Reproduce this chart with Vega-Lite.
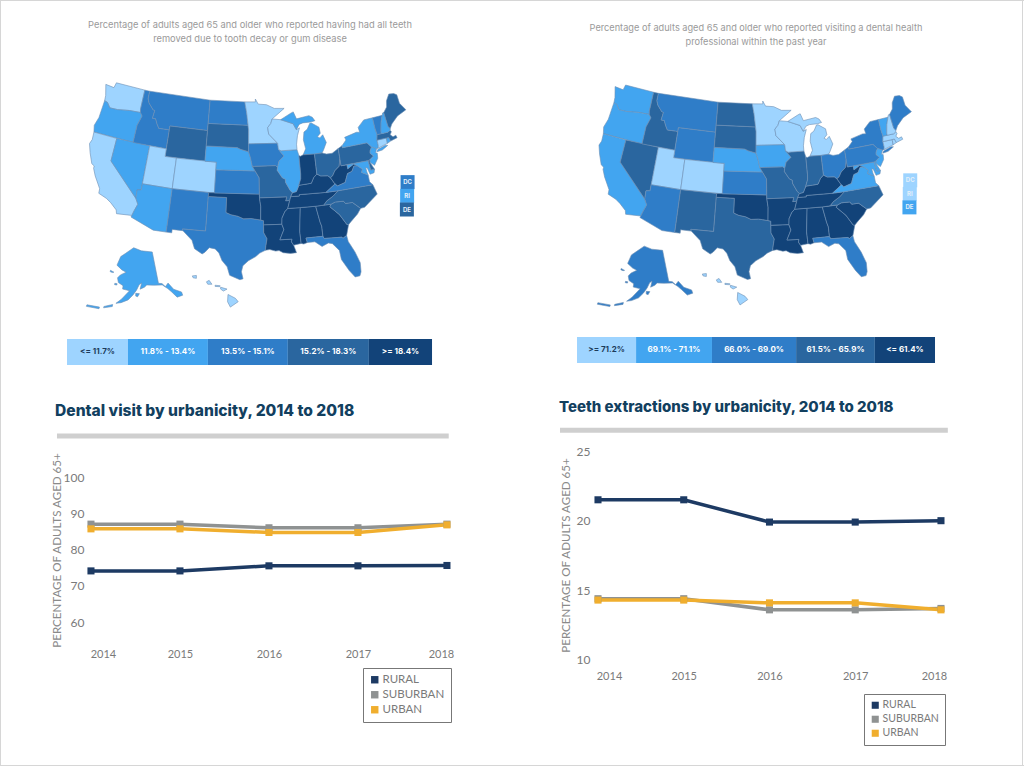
{
"$schema":"https://vega.github.io/schema/vega-lite/v6.json",
"padding":0,"autosize":{"type":"pad"},"background":"white","spacing":0,
"config":{"view":{"stroke":null},"font":"Lato"},
"resolve":{"scale":{"color":"independent"}},
"datasets":{
"boxes":[{"label":"DC","lonA":-70.27,"lonB":-70.6,"lat":35.8,"latB":36.25,"a":2,"b":0},{"label":"RI","lonA":-70.92,"lonB":-71.25,"lat":34.1,"latB":34.55,"a":1,"b":0},{"label":"DE","lonA":-71.51,"lonB":-71.85,"lat":32.4,"latB":32.85,"a":3,"b":1}],
"visit":[
{"year":2014,"group":"RURAL","pct":74.1},{"year":2015,"group":"RURAL","pct":74.1},{"year":2016,"group":"RURAL","pct":75.5},{"year":2017,"group":"RURAL","pct":75.5},{"year":2018,"group":"RURAL","pct":75.6},
{"year":2014,"group":"SUBURBAN","pct":87},{"year":2015,"group":"SUBURBAN","pct":87},{"year":2016,"group":"SUBURBAN","pct":86},{"year":2017,"group":"SUBURBAN","pct":86},{"year":2018,"group":"SUBURBAN","pct":87},
{"year":2014,"group":"URBAN","pct":85.7},{"year":2015,"group":"URBAN","pct":85.7},{"year":2016,"group":"URBAN","pct":84.7},{"year":2017,"group":"URBAN","pct":84.7},{"year":2018,"group":"URBAN","pct":86.8}],
"extract":[
{"year":2014,"group":"RURAL","pct":21.5},{"year":2015,"group":"RURAL","pct":21.5},{"year":2016,"group":"RURAL","pct":19.9},{"year":2017,"group":"RURAL","pct":19.9},{"year":2018,"group":"RURAL","pct":20},
{"year":2014,"group":"SUBURBAN","pct":14.4},{"year":2015,"group":"SUBURBAN","pct":14.4},{"year":2016,"group":"SUBURBAN","pct":13.6},{"year":2017,"group":"SUBURBAN","pct":13.6},{"year":2018,"group":"SUBURBAN","pct":13.7},
{"year":2014,"group":"URBAN","pct":14.3},{"year":2015,"group":"URBAN","pct":14.3},{"year":2016,"group":"URBAN","pct":14.1},{"year":2017,"group":"URBAN","pct":14.1},{"year":2018,"group":"URBAN","pct":13.6}],
"states":[
{"type":"Feature","properties":{"id":"WA","a":0,"b":1},"geometry":{"type":"Polygon","coordinates":[[[-124.7,48.4],[-123,48.3],[-122.8,49],[-117.03,49],[-117.04,46.42],[-116.92,46],[-119,45.93],[-121.2,45.65],[-122.7,45.6],[-123.4,46.2],[-124,46.3],[-124.1,47],[-124.7,48.4]]]}},
{"type":"Feature","properties":{"id":"OR","a":1,"b":1},"geometry":{"type":"Polygon","coordinates":[[[-124,46.3],[-123.4,46.2],[-122.7,45.6],[-121.2,45.65],[-119,45.93],[-116.92,46],[-116.46,45.6],[-117,44.3],[-117.03,42],[-124.2,42],[-124.5,42.85],[-124.1,44],[-124,46.3]]]}},
{"type":"Feature","properties":{"id":"CA","a":0,"b":1},"geometry":{"type":"Polygon","coordinates":[[[-124.2,42],[-120,42],[-120,39],[-114.63,35],[-114.13,34.3],[-114.5,33.4],[-114.72,32.72],[-117.12,32.53],[-117.3,33],[-118.4,33.75],[-119.2,34.15],[-120.6,34.55],[-120.65,35.15],[-121.9,36.6],[-122.5,37.5],[-122.5,37.8],[-123,38],[-123.8,39.3],[-124.35,40.4],[-124.1,41],[-124.2,42]]]}},
{"type":"Feature","properties":{"id":"NV","a":1,"b":3},"geometry":{"type":"Polygon","coordinates":[[[-120,42],[-114.04,42],[-114.04,36.2],[-114.7,36.1],[-114.63,35],[-120,39],[-120,42]]]}},
{"type":"Feature","properties":{"id":"ID","a":2,"b":3},"geometry":{"type":"Polygon","coordinates":[[[-117.03,49],[-116.05,49],[-116.05,48],[-115.7,47.45],[-114.7,46.7],[-114.35,46.65],[-114.5,45.6],[-113.9,45.6],[-113.45,44.95],[-113,44.45],[-111.5,44.5],[-111.05,44.48],[-111.05,42],[-117.03,42],[-117,44.3],[-116.46,45.6],[-116.92,46],[-117.04,46.42],[-117.03,49]]]}},
{"type":"Feature","properties":{"id":"MT","a":2,"b":2},"geometry":{"type":"Polygon","coordinates":[[[-116.05,49],[-104.05,49],[-104.05,45],[-111.05,45],[-111.05,44.48],[-111.5,44.5],[-113,44.45],[-113.45,44.95],[-113.9,45.6],[-114.5,45.6],[-114.35,46.65],[-114.7,46.7],[-115.7,47.45],[-116.05,48],[-116.05,49]]]}},
{"type":"Feature","properties":{"id":"WY","a":3,"b":2},"geometry":{"type":"Polygon","coordinates":[[[-111.05,45],[-104.05,45],[-104.05,41],[-111.05,41],[-111.05,45]]]}},
{"type":"Feature","properties":{"id":"UT","a":0,"b":0},"geometry":{"type":"Polygon","coordinates":[[[-114.04,42],[-111.05,42],[-111.05,41],[-109.05,41],[-109.05,37],[-114.04,37],[-114.04,42]]]}},
{"type":"Feature","properties":{"id":"CO","a":0,"b":0},"geometry":{"type":"Polygon","coordinates":[[[-109.05,41],[-102.05,41],[-102.05,37],[-109.05,37],[-109.05,41]]]}},
{"type":"Feature","properties":{"id":"AZ","a":1,"b":2},"geometry":{"type":"Polygon","coordinates":[[[-114.04,37],[-109.05,37],[-109.05,31.33],[-111.07,31.33],[-114.81,32.5],[-114.72,32.72],[-114.5,33.4],[-114.13,34.3],[-114.63,35],[-114.7,36.1],[-114.04,36.2],[-114.04,37]]]}},
{"type":"Feature","properties":{"id":"NM","a":2,"b":3},"geometry":{"type":"Polygon","coordinates":[[[-109.05,37],[-103,37],[-103.04,32],[-106.62,32],[-106.53,31.78],[-108.2,31.78],[-108.2,31.33],[-109.05,31.33],[-109.05,37]]]}},
{"type":"Feature","properties":{"id":"TX","a":2,"b":3},"geometry":{"type":"Polygon","coordinates":[[[-103.02,36.5],[-100,36.5],[-100,34.56],[-99.2,34.3],[-98.1,34.13],[-97.2,33.8],[-96,33.85],[-94.48,33.64],[-94.04,33.55],[-94.04,33],[-94.04,31.99],[-93.55,31.2],[-93.75,30.3],[-93.85,29.7],[-94.7,29.35],[-95.3,28.9],[-96.4,28.35],[-97.2,27.7],[-97.4,26.9],[-97.15,25.97],[-97.6,25.85],[-99.1,26.4],[-99.5,27.5],[-100.3,28.3],[-100.8,29.25],[-101.4,29.77],[-102.3,29.88],[-102.9,29.25],[-103.3,29],[-104.5,29.6],[-105,30.65],[-106.53,31.78],[-106.62,32],[-103.04,32],[-103.02,36.5]]]}},
{"type":"Feature","properties":{"id":"OK","a":4,"b":4},"geometry":{"type":"Polygon","coordinates":[[[-103,37],[-94.62,37],[-94.62,36.5],[-94.43,35.39],[-94.48,33.64],[-96,33.85],[-97.2,33.8],[-98.1,34.13],[-99.2,34.3],[-100,34.56],[-100,36.5],[-103.02,36.5],[-103,37]]]}},
{"type":"Feature","properties":{"id":"KS","a":2,"b":2},"geometry":{"type":"Polygon","coordinates":[[[-102.05,40],[-95.3,40],[-94.62,39.1],[-94.62,37],[-102.05,37],[-102.05,40]]]}},
{"type":"Feature","properties":{"id":"NE","a":1,"b":1},"geometry":{"type":"Polygon","coordinates":[[[-104.05,43],[-98.5,43],[-97.9,42.8],[-96.45,42.49],[-96.1,41.7],[-95.77,40.58],[-95.3,40],[-102.05,40],[-102.05,41],[-104.05,41],[-104.05,43]]]}},
{"type":"Feature","properties":{"id":"SD","a":3,"b":3},"geometry":{"type":"Polygon","coordinates":[[[-104.05,45.94],[-96.56,45.94],[-96.45,45.3],[-96.45,43.5],[-96.45,42.49],[-97.9,42.8],[-98.5,43],[-104.05,43],[-104.05,45.94]]]}},
{"type":"Feature","properties":{"id":"ND","a":2,"b":3},"geometry":{"type":"Polygon","coordinates":[[[-104.05,49],[-97.23,49],[-96.85,47.6],[-96.56,45.94],[-104.05,45.94],[-104.05,49]]]}},
{"type":"Feature","properties":{"id":"MN","a":0,"b":0},"geometry":{"type":"Polygon","coordinates":[[[-97.23,49],[-95.15,49],[-95.15,49.38],[-94.6,48.7],[-93,48.6],[-91.5,48.07],[-89.6,48],[-92,46.7],[-92.3,46.1],[-92.9,45.6],[-92.75,44.75],[-91.2,43.5],[-96.45,43.5],[-96.45,45.3],[-96.56,45.94],[-96.85,47.6],[-97.23,49]]]}},
{"type":"Feature","properties":{"id":"IA","a":2,"b":1},"geometry":{"type":"Polygon","coordinates":[[[-96.45,43.5],[-91.2,43.5],[-91.1,42.7],[-90.2,41.8],[-91.1,41.2],[-91.42,40.38],[-91.73,40.61],[-95.77,40.58],[-96.1,41.7],[-96.45,42.49],[-96.45,43.5]]]}},
{"type":"Feature","properties":{"id":"MO","a":3,"b":3},"geometry":{"type":"Polygon","coordinates":[[[-95.77,40.58],[-91.73,40.61],[-91.42,40.38],[-91.5,40],[-90.7,39],[-90.2,38.8],[-90.2,38.4],[-89.5,37.3],[-89.15,37],[-89.5,36.5],[-89.7,36],[-90.37,36],[-90.15,36.5],[-94.62,36.5],[-94.62,37],[-94.62,39.1],[-95.3,40],[-95.77,40.58]]]}},
{"type":"Feature","properties":{"id":"AR","a":4,"b":4},"geometry":{"type":"Polygon","coordinates":[[[-94.62,36.5],[-90.15,36.5],[-90.37,36],[-89.7,36],[-90.1,35],[-90.6,34.6],[-91.1,33.8],[-91.17,33],[-94.04,33],[-94.04,33.55],[-94.48,33.64],[-94.43,35.39],[-94.62,36.5]]]}},
{"type":"Feature","properties":{"id":"LA","a":4,"b":4},"geometry":{"type":"Polygon","coordinates":[[[-94.04,33],[-91.17,33],[-90.9,32.3],[-91.6,31],[-89.73,31],[-89.85,30.65],[-89.55,30.2],[-89.4,29.8],[-89.2,29.2],[-90.1,29.15],[-91.2,29.3],[-91.8,29.6],[-92.3,29.55],[-93.2,29.78],[-93.85,29.7],[-93.75,30.3],[-93.55,31.2],[-94.04,31.99],[-94.04,33]]]}},
{"type":"Feature","properties":{"id":"MS","a":4,"b":4},"geometry":{"type":"Polygon","coordinates":[[[-90.1,35],[-88.2,35],[-88.1,34.9],[-88.47,31.9],[-88.4,30.35],[-89.55,30.2],[-89.85,30.65],[-89.73,31],[-91.6,31],[-90.9,32.3],[-91.17,33],[-91.1,33.8],[-90.6,34.6],[-90.1,35]]]}},
{"type":"Feature","properties":{"id":"AL","a":4,"b":4},"geometry":{"type":"Polygon","coordinates":[[[-88.2,35],[-85.6,34.98],[-85.18,32.87],[-85,32.3],[-85,31],[-87.6,31],[-87.45,30.4],[-88,30.25],[-88.4,30.35],[-88.47,31.9],[-88.1,34.9],[-88.2,35]]]}},
{"type":"Feature","properties":{"id":"GA","a":4,"b":4},"geometry":{"type":"Polygon","coordinates":[[[-85.6,34.98],[-83.1,35],[-83.35,34.7],[-82,33.5],[-81.1,32.1],[-80.85,32.03],[-81.4,30.7],[-82,30.4],[-82.2,30.57],[-84.86,30.7],[-85,31],[-85,32.3],[-85.18,32.87],[-85.6,34.98]]]}},
{"type":"Feature","properties":{"id":"FL","a":2,"b":2},"geometry":{"type":"Polygon","coordinates":[[[-87.6,31],[-85,31],[-84.86,30.7],[-82.2,30.57],[-82,30.4],[-81.4,30.7],[-81.3,29.9],[-80.55,28.4],[-80.05,26.9],[-80.15,25.7],[-80.4,25.2],[-81.1,25.15],[-81.8,26.1],[-82.7,27.7],[-82.8,28.9],[-83.7,29.9],[-84.3,30.05],[-85.3,29.7],[-86.3,30.4],[-87.45,30.4],[-87.6,31]]]}},
{"type":"Feature","properties":{"id":"SC","a":3,"b":4},"geometry":{"type":"Polygon","coordinates":[[[-83.1,35],[-82.4,35.2],[-81.05,35.15],[-80.8,34.82],[-79.67,34.8],[-78.55,33.86],[-79.2,33.2],[-80.45,32.35],[-80.85,32.03],[-81.1,32.1],[-82,33.5],[-83.35,34.7],[-83.1,35]]]}},
{"type":"Feature","properties":{"id":"NC","a":3,"b":3},"geometry":{"type":"Polygon","coordinates":[[[-81.68,36.59],[-75.87,36.55],[-75.5,35.25],[-76.5,34.7],[-77.9,33.9],[-78.55,33.86],[-79.67,34.8],[-80.8,34.82],[-81.05,35.15],[-82.4,35.2],[-83.1,35],[-84.32,35],[-83.7,35.5],[-82.6,36],[-81.68,36.59]]]}},
{"type":"Feature","properties":{"id":"TN","a":4,"b":4},"geometry":{"type":"Polygon","coordinates":[[[-89.5,36.5],[-88.07,36.5],[-88.07,36.68],[-83.68,36.6],[-81.68,36.59],[-82.6,36],[-83.7,35.5],[-84.32,35],[-85.6,34.98],[-88.2,35],[-90.1,35],[-89.7,36],[-89.5,36.5]]]}},
{"type":"Feature","properties":{"id":"KY","a":4,"b":4},"geometry":{"type":"Polygon","coordinates":[[[-89.15,37],[-88.5,37.1],[-88.05,37.8],[-87.9,37.9],[-86.8,37.95],[-85.9,38],[-85.4,38.7],[-84.8,39.1],[-84.2,38.8],[-83,38.7],[-82.6,38.4],[-82,37.5],[-81.97,37.54],[-83.68,36.6],[-88.07,36.68],[-88.07,36.5],[-89.5,36.5],[-89.15,37]]]}},
{"type":"Feature","properties":{"id":"IL","a":1,"b":3},"geometry":{"type":"Polygon","coordinates":[[[-90.65,42.5],[-87.8,42.5],[-87.55,41.7],[-87.53,39.35],[-87.6,38.7],[-88.05,37.8],[-88.5,37.1],[-89.15,37],[-89.5,37.3],[-90.2,38.4],[-90.2,38.8],[-90.7,39],[-91.5,40],[-91.42,40.38],[-91.1,41.2],[-90.2,41.8],[-91.1,42.7],[-90.65,42.5]]]}},
{"type":"Feature","properties":{"id":"WI","a":0,"b":0},"geometry":{"type":"Polygon","coordinates":[[[-92,46.7],[-90.4,46.55],[-88.1,45.9],[-87.6,45.1],[-87,45.3],[-87.5,44.3],[-87.8,43.2],[-87.8,42.5],[-90.65,42.5],[-91.1,42.7],[-91.2,43.5],[-92.75,44.75],[-92.9,45.6],[-92.3,46.1],[-92,46.7]]]}},
{"type":"Feature","properties":{"id":"MI","a":1,"b":0},"geometry":{"type":"MultiPolygon","coordinates":[[[[-85,45.75],[-84.7,45.75],[-83.4,45.1],[-83.3,44.3],[-83.9,43.9],[-83.5,43.7],[-82.9,44.05],[-82.45,43],[-83.15,42.05],[-83.45,41.73],[-84.8,41.7],[-86.8,41.76],[-86.25,42.5],[-86.5,43.7],[-86.25,44.7],[-85.6,45],[-85,45.75]]],[[[-90.4,46.55],[-88.4,47.3],[-87.9,47.45],[-87.4,46.5],[-85,46.75],[-84.4,46.5],[-84,46],[-84.8,45.9],[-86.3,45.9],[-87,45.75],[-87.6,45.1],[-88.1,45.9],[-90.4,46.55]]]]}},
{"type":"Feature","properties":{"id":"IN","a":4,"b":3},"geometry":{"type":"Polygon","coordinates":[[[-87.55,41.7],[-87.3,41.62],[-86.8,41.76],[-84.8,41.7],[-84.8,39.1],[-85.4,38.7],[-85.9,38],[-86.8,37.95],[-87.9,37.9],[-88.05,37.8],[-87.6,38.7],[-87.53,39.35],[-87.55,41.7]]]}},
{"type":"Feature","properties":{"id":"OH","a":3,"b":2},"geometry":{"type":"Polygon","coordinates":[[[-84.8,41.7],[-83.45,41.73],[-82.7,41.5],[-81.7,41.5],[-80.52,41.98],[-80.52,40.64],[-80.85,39.7],[-81.7,39.2],[-82.2,38.6],[-82.6,38.4],[-83,38.7],[-84.2,38.8],[-84.8,39.1],[-84.8,41.7]]]}},
{"type":"Feature","properties":{"id":"WV","a":4,"b":4},"geometry":{"type":"Polygon","coordinates":[[[-80.52,40.64],[-80.52,39.72],[-79.48,39.72],[-79.48,39.2],[-78.35,39.65],[-77.72,39.32],[-78.35,39.4],[-78.87,38.76],[-79.65,38.59],[-80.3,37.5],[-81.68,37.2],[-81.97,37.54],[-82,37.5],[-82.6,38.4],[-82.2,38.6],[-81.7,39.2],[-80.85,39.7],[-80.52,40.64]]]}},
{"type":"Feature","properties":{"id":"VA","a":2,"b":1},"geometry":{"type":"Polygon","coordinates":[[[-83.68,36.6],[-81.97,37.54],[-81.68,37.2],[-80.3,37.5],[-79.65,38.59],[-78.87,38.76],[-78.35,39.4],[-77.72,39.32],[-77.05,38.8],[-77.3,38.4],[-76.3,37.9],[-76.3,37],[-75.87,36.55],[-81.68,36.59],[-83.68,36.6]]]}},
{"type":"Feature","properties":{"id":"MD","a":1,"b":1},"geometry":{"type":"Polygon","coordinates":[[[-79.48,39.72],[-75.79,39.72],[-75.7,38.46],[-75.05,38.45],[-75.25,38.03],[-75.95,37.95],[-76.2,38.8],[-76.45,38.9],[-76.4,38.3],[-76.3,37.9],[-77.3,38.4],[-77.05,38.8],[-77.72,39.32],[-78.35,39.65],[-79.48,39.2],[-79.48,39.72]]]}},
{"type":"Feature","properties":{"id":"DE","a":3,"b":1},"geometry":{"type":"Polygon","coordinates":[[[-75.79,39.72],[-75.42,39.8],[-75.55,39.45],[-75.05,38.45],[-75.7,38.46],[-75.79,39.72]]]}},
{"type":"Feature","properties":{"id":"PA","a":3,"b":2},"geometry":{"type":"Polygon","coordinates":[[[-80.52,41.98],[-79.76,42.27],[-79.76,42],[-75.35,42],[-74.7,41.36],[-75.1,40.9],[-75.2,40.6],[-74.72,40.15],[-75.42,39.8],[-75.79,39.72],[-80.52,39.72],[-80.52,41.98]]]}},
{"type":"Feature","properties":{"id":"NJ","a":1,"b":1},"geometry":{"type":"Polygon","coordinates":[[[-74.7,41.36],[-73.9,41],[-74.25,40.5],[-73.98,40.4],[-74.1,39.75],[-74.9,38.95],[-75.55,39.45],[-75.42,39.8],[-74.72,40.15],[-75.2,40.6],[-75.1,40.9],[-74.7,41.36]]]}},
{"type":"Feature","properties":{"id":"NY","a":1,"b":2},"geometry":{"type":"MultiPolygon","coordinates":[[[[-79.76,42.27],[-78.9,42.9],[-79.05,43.27],[-76.8,43.63],[-76.2,43.55],[-76.3,44.2],[-75,45],[-73.34,45.01],[-73.35,43.6],[-73.25,42.75],[-73.5,42.05],[-73.5,41.3],[-73.65,41],[-73.9,41],[-74.7,41.36],[-75.35,42],[-79.76,42],[-79.76,42.27]]],[[[-73.75,40.85],[-72.3,41.15],[-71.9,41.05],[-73,40.65],[-74,40.58],[-73.75,40.85]]]]}},
{"type":"Feature","properties":{"id":"CT","a":0,"b":0},"geometry":{"type":"Polygon","coordinates":[[[-73.5,42.05],[-71.8,42.02],[-71.85,41.32],[-73.65,41],[-73.5,41.3],[-73.5,42.05]]]}},
{"type":"Feature","properties":{"id":"RI","a":1,"b":0},"geometry":{"type":"Polygon","coordinates":[[[-71.8,42.02],[-71.38,42.02],[-71.2,41.5],[-71.85,41.32],[-71.8,42.02]]]}},
{"type":"Feature","properties":{"id":"MA","a":3,"b":0},"geometry":{"type":"Polygon","coordinates":[[[-73.25,42.75],[-72.46,42.73],[-71.3,42.7],[-70.8,42.87],[-70.65,42.65],[-71,42.3],[-70.6,41.95],[-70.05,42.05],[-69.95,41.7],[-71.2,41.5],[-71.38,42.02],[-71.8,42.02],[-73.5,42.05],[-73.25,42.75]]]}},
{"type":"Feature","properties":{"id":"VT","a":2,"b":1},"geometry":{"type":"Polygon","coordinates":[[[-73.34,45.01],[-71.5,45.01],[-72.05,44.1],[-72.45,43],[-72.46,42.73],[-73.25,42.75],[-73.35,43.6],[-73.34,45.01]]]}},
{"type":"Feature","properties":{"id":"NH","a":1,"b":0},"geometry":{"type":"Polygon","coordinates":[[[-71.5,45.01],[-71.3,45.3],[-71.08,45.3],[-70.98,43.4],[-70.7,43.07],[-70.8,42.87],[-71.3,42.7],[-72.46,42.73],[-72.45,43],[-72.05,44.1],[-71.5,45.01]]]}},
{"type":"Feature","properties":{"id":"ME","a":3,"b":2},"geometry":{"type":"Polygon","coordinates":[[[-71.08,45.3],[-70.3,45.9],[-70,46.7],[-69.23,47.46],[-68.3,47.35],[-67.8,47.07],[-67.78,45.9],[-67,44.85],[-68.8,44.4],[-70.2,43.6],[-70.7,43.07],[-70.98,43.4],[-71.08,45.3]]]}},
{"type":"Feature","properties":{"id":"AK","a":1,"b":2},"geometry":{"type":"MultiPolygon","coordinates":[[[[-168,65.6],[-166.5,68.3],[-163,69.5],[-156.6,71.35],[-150,70.4],[-141,69.65],[-141,60.3],[-139,60],[-137.5,58.9],[-135.5,59.7],[-133.5,57.5],[-130,56],[-130,55],[-133,55],[-135,57],[-136.5,58.2],[-139,59.6],[-144,60],[-148,60.3],[-149.5,59.7],[-152,59.2],[-151,61],[-152.5,60.5],[-154,59],[-156,57.5],[-158.5,56],[-162,55],[-164.5,54.6],[-162,56],[-158,58.7],[-162,59],[-162,60],[-165,60.7],[-166,62],[-164.5,63],[-161,64],[-164,64.5],[-168,65.6]]],[[[-154.5,58],[-152.5,57.9],[-153.5,57],[-154.5,57.2],[-154.5,58]]],[[[-167,60.3],[-165.6,60.3],[-165.7,59.9],[-167,59.9],[-167,60.3]]],[[[-171.5,63.7],[-169,63.4],[-170,63.2],[-171.5,63.3],[-171.5,63.7]]],[[[-170,53],[-166,54.1],[-166,53.5],[-170,52.6],[-170,53]]],[[[-178,52],[-172,52.5],[-172,52],[-178,51.5],[-178,52]]]]}},
{"type":"Feature","properties":{"id":"HI","a":0,"b":0},"geometry":{"type":"MultiPolygon","coordinates":[[[[-155.9,20.25],[-155.1,19.85],[-154.8,19.5],[-155.65,18.95],[-155.95,19.5],[-155.9,20.25]]],[[[-156.7,21],[-156,20.8],[-156.4,20.6],[-156.7,20.8],[-156.7,21]]],[[[-158.25,21.55],[-157.95,21.7],[-157.65,21.3],[-158.1,21.3],[-158.25,21.55]]],[[[-159.8,22.15],[-159.35,22.2],[-159.35,21.9],[-159.7,21.95],[-159.8,22.15]]],[[[-157.3,21.2],[-156.75,21.15],[-156.8,21.05],[-157.3,21.08],[-157.3,21.2]]]]}}
]},
"vconcat":[
{"width":1024,"height":1,"view":{"fill":"#d6d6d6","stroke":null},"data":{"values":[{}]},"mark":{"type":"rect","opacity":0},"encoding":{}},
{"spacing":0,"resolve":{"scale":{"color":"independent"}},"hconcat":[
{"width":1,"height":764,"view":{"fill":"#d6d6d6","stroke":null},"data":{"values":[{}]},"mark":{"type":"rect","opacity":0},"encoding":{}},
{"bounds":"flush","spacing":0,"resolve":{"scale":{"color":"independent"}},"vconcat":[
{"width":511,"height":229,
 "title":{"text":["Percentage of adults aged 65 and older who reported having had all teeth","removed due to tooth decay or gum disease"],"anchor":"middle","frame":"group","offset":-43,"baseline":"top","dx":-6.5,"font":"Inter","fontSize":9.3,"fontWeight":"normal","color":"#9a9a9a","lineHeight":14},
 "projection":{"type":"albersUsa","scale":439,"translate":[246.5,180]},
 "layer":[
 {"data":{"name":"states"},"transform":[{"filter":"datum.properties.id!='AK'&&datum.properties.id!='HI'"}],"mark":{"type":"geoshape","clip":false,"stroke":"#6d8fb3","strokeWidth":0.6},"encoding":{"color":{"field":"properties.a","type":"ordinal","legend":null,"scale":{"domain":[0,1,2,3,4],"range":["#9ed4ff","#42a5f0","#2f7dc8","#2a669f","#124379"]}}}},
 {"data":{"name":"boxes"},"mark":{"type":"square","size":196,"opacity":1,"filled":true},"encoding":{"longitude":{"field":"lonA","type":"quantitative"},"latitude":{"field":"lat","type":"quantitative"},"color":{"field":"a","type":"ordinal","legend":null,"scale":{"domain":[0,1,2,3,4],"range":["#9ed4ff","#42a5f0","#2f7dc8","#2a669f","#124379"]}}}},
 {"data":{"name":"boxes"},"mark":{"type":"text","fontSize":6,"font":"Inter","fontWeight":"bold","color":"#e4f0fa"},"encoding":{"longitude":{"field":"lonA","type":"quantitative"},"latitude":{"field":"lat","type":"quantitative"},"text":{"field":"label"}}}
 ]},
{"width":511,"height":109,
 "projection":{"type":"albersUsa","scale":560,"translate":[304,-51],"precision":0.6},
 "layer":[{"data":{"name":"states"},"transform":[{"filter":"datum.properties.id=='AK'||datum.properties.id=='HI'"}],
 "mark":{"type":"geoshape","clip":false,"stroke":"#6d8fb3","strokeWidth":0.6},"encoding":{"color":{"field":"properties.a","type":"ordinal","legend":null,"scale":{"domain":[0,1,2,3,4],"range":["#9ed4ff","#42a5f0","#2f7dc8","#2a669f","#124379"]}}}}]},
{"width":511,"height":26,
 "data":{"values":[{"label":"<= 11.7%","cls":0,"lo":0,"hi":16.7,"mid":8.35},{"label":"11.8% - 13.4%","cls":1,"lo":16.7,"hi":38.6,"mid":27.65},{"label":"13.5% - 15.1%","cls":2,"lo":38.6,"hi":60.5,"mid":49.55},{"label":"15.2% - 18.3%","cls":3,"lo":60.5,"hi":82.7,"mid":71.6},{"label":">= 18.4%","cls":4,"lo":82.7,"hi":100,"mid":91.35}]},
 "layer":[
 {"mark":{"type":"rect"},"encoding":{"x":{"field":"lo","type":"quantitative","axis":null,"scale":{"domain":[-18.086,121.91],"nice":false,"zero":false}},"x2":{"field":"hi"},"color":{"field":"cls","type":"ordinal","legend":null,"scale":{"domain":[0,1,2,3,4],"range":["#9ed4ff","#42a5f0","#2f7dc8","#2a669f","#124379"]}}}},
 {"mark":{"type":"text","fontSize":8,"font":"Inter","fontWeight":"bold"},"encoding":{"x":{"field":"mid","type":"quantitative","axis":null,"scale":{"domain":[-18.086,121.91],"nice":false,"zero":false}},"text":{"field":"label"},"color":{"condition":{"test":"datum.cls==0","value":"#1c3b5a"},"value":"#ffffff"}}}
 ]},
{"width":511,"height":280,
 "title":{"text":"Dental visit by urbanicity, 2014 to 2018","anchor":"start","frame":"group","offset":-62,"baseline":"middle","dx":54,"font":"Inter","fontSize":15.6,"fontWeight":800,"color":"#12405f"},
 "layer":[
 {"data":{"values":[{"from":2013.618,"to":2018.02,"level":111.3}]},"mark":{"type":"rule","color":"#cfcfcf","strokeWidth":5},"encoding":{
  "x":{"field":"from","type":"quantitative","title":null,"scale":{"domain":[2012.989,2018.731],"nice":false,"zero":false},"axis":{"title":null,"values":[2014,2015,2016,2017,2018],"format":"d","grid":false,"domain":false,"ticks":false,"labelPadding":3,"labelFontSize":11,"labelColor":"#7a7a7a","labelOffset":{"condition":[{"test":"datum.value==2014","value":12},{"test":"datum.value==2018","value":-6}],"value":0}}},"x2":{"field":"to"},
  "y":{"field":"level","type":"quantitative","scale":{"domain":[53.66,130.9],"nice":false,"zero":false},"axis":{"values":[60,70,80,90,100],"grid":false,"domain":false,"ticks":false,"offset":-85,"labelPadding":2,"labelFontSize":12,"labelColor":"#7a7a7a","title":"PERCENTAGE OF ADULTS AGED 65+","titleFontSize":11.6,"titleFontWeight":"normal","titleColor":"#8a8a8a","titleX":-24,"titleY":185}}}},
 {"data":{"name":"visit"},"mark":{"type":"line","strokeWidth":3.5},"encoding":{"x":{"field":"year","type":"quantitative"},"y":{"field":"pct","type":"quantitative"},"stroke":{"field":"group","type":"nominal","legend":null,"scale":{"domain":["RURAL","SUBURBAN","URBAN"],"range":["#1d3a63","#8f9292","#f0ae2e"]}}}},
 {"data":{"name":"visit"},"mark":{"type":"square","size":50,"filled":true,"opacity":1},"encoding":{
  "x":{"field":"year","type":"quantitative"},
  "y":{"field":"pct","type":"quantitative"},
  "color":{"field":"group","type":"nominal","scale":{"domain":["RURAL","SUBURBAN","URBAN"],"range":["#1d3a63","#8f9292","#f0ae2e"]},"legend":{"orient":"none","legendX":362,"legendY":303,"title":null,"symbolType":"square","symbolSize":55,"symbolOpacity":1,"strokeColor":"#777777","padding":6,"labelFontSize":11.5,"labelColor":"#7a7a7a","rowPadding":2,"labelOffset":2}}}}
 ]}
]},
{"bounds":"flush","spacing":0,"resolve":{"scale":{"color":"independent"}},"vconcat":[
{"width":510,"height":227,
 "title":{"text":["Percentage of adults aged 65 and older who reported visiting a dental health","professional within the past year"],"anchor":"middle","frame":"group","offset":-46,"baseline":"top","dx":-11,"font":"Inter","fontSize":9.2,"fontWeight":"normal","color":"#9a9a9a","lineHeight":14},
 "projection":{"type":"albersUsa","scale":433.5,"translate":[243,181]},
 "layer":[
 {"data":{"name":"states"},"transform":[{"filter":"datum.properties.id!='AK'&&datum.properties.id!='HI'"}],"mark":{"type":"geoshape","clip":false,"stroke":"#6d8fb3","strokeWidth":0.6},"encoding":{"color":{"field":"properties.b","type":"ordinal","legend":null,"scale":{"domain":[0,1,2,3,4],"range":["#9ed4ff","#42a5f0","#2f7dc8","#2a669f","#124379"]}}}},
 {"data":{"name":"boxes"},"mark":{"type":"square","size":196,"opacity":1,"filled":true},"encoding":{"longitude":{"field":"lonB","type":"quantitative"},"latitude":{"field":"latB","type":"quantitative"},"color":{"field":"b","type":"ordinal","legend":null,"scale":{"domain":[0,1,2,3,4],"range":["#9ed4ff","#42a5f0","#2f7dc8","#2a669f","#124379"]}}}},
 {"data":{"name":"boxes"},"mark":{"type":"text","fontSize":6,"font":"Inter","fontWeight":"bold","color":"#e4f0fa"},"encoding":{"longitude":{"field":"lonB","type":"quantitative"},"latitude":{"field":"latB","type":"quantitative"},"text":{"field":"label"}}}
 ]},
{"width":510,"height":109,
 "projection":{"type":"albersUsa","scale":555,"translate":[302,-50],"precision":0.6},
 "layer":[{"data":{"name":"states"},"transform":[{"filter":"datum.properties.id=='AK'||datum.properties.id=='HI'"}],
 "mark":{"type":"geoshape","clip":false,"stroke":"#6d8fb3","strokeWidth":0.6},"encoding":{"color":{"field":"properties.b","type":"ordinal","legend":null,"scale":{"domain":[0,1,2,3,4],"range":["#9ed4ff","#42a5f0","#2f7dc8","#2a669f","#124379"]}}}}]},
{"width":510,"height":26,
 "data":{"values":[{"label":">= 71.2%","cls":0,"lo":0,"hi":16.5,"mid":8.25},{"label":"69.1% - 71.1%","cls":1,"lo":16.5,"hi":37.7,"mid":27.1},{"label":"66.0% - 69.0%","cls":2,"lo":37.7,"hi":61.2,"mid":49.45},{"label":"61.5% - 65.9%","cls":3,"lo":61.2,"hi":83.2,"mid":72.2},{"label":"<= 61.4%","cls":4,"lo":83.2,"hi":100,"mid":91.6}]},
 "layer":[
 {"mark":{"type":"rect"},"encoding":{"x":{"field":"lo","type":"quantitative","axis":null,"scale":{"domain":[-18.16,124.3],"nice":false,"zero":false}},"x2":{"field":"hi"},"color":{"field":"cls","type":"ordinal","legend":null,"scale":{"domain":[0,1,2,3,4],"range":["#9ed4ff","#42a5f0","#2f7dc8","#2a669f","#124379"]}}}},
 {"mark":{"type":"text","fontSize":8,"font":"Inter","fontWeight":"bold"},"encoding":{"x":{"field":"mid","type":"quantitative","axis":null,"scale":{"domain":[-18.16,124.3],"nice":false,"zero":false}},"text":{"field":"label"},"color":{"condition":{"test":"datum.cls==0","value":"#1c3b5a"},"value":"#ffffff"}}}
 ]},
{"width":510,"height":302,
 "title":{"text":"Teeth extractions by urbanicity, 2014 to 2018","anchor":"start","frame":"group","offset":-59,"baseline":"middle","dx":47,"font":"Inter","fontSize":15,"fontWeight":800,"color":"#12405f"},
 "layer":[
 {"data":{"values":[{"from":2013.557,"to":2018.08,"level":26.5}]},"mark":{"type":"rule","color":"#cfcfcf","strokeWidth":5},"encoding":{
  "x":{"field":"from","type":"quantitative","title":null,"scale":{"domain":[2012.997,2018.945],"nice":false,"zero":false},"axis":{"title":null,"values":[2014,2015,2016,2017,2018],"format":"d","grid":false,"domain":false,"ticks":false,"labelPadding":5,"labelFontSize":11,"labelColor":"#7a7a7a","labelOffset":{"condition":[{"test":"datum.value==2014","value":11},{"test":"datum.value==2018","value":-7}],"value":0}}},"x2":{"field":"to"},
  "y":{"field":"level","type":"quantitative","scale":{"domain":[9.64,31.32],"nice":false,"zero":false},"axis":{"values":[10,15,20,25],"grid":false,"domain":false,"ticks":false,"offset":-80,"labelPadding":2,"labelFontSize":12,"labelColor":"#7a7a7a","title":"PERCENTAGE OF ADULTS AGED 65+","titleFontSize":11.6,"titleFontWeight":"normal","titleColor":"#8a8a8a","titleX":-21,"titleY":192}}}},
 {"data":{"name":"extract"},"mark":{"type":"line","strokeWidth":3.5},"encoding":{"x":{"field":"year","type":"quantitative"},"y":{"field":"pct","type":"quantitative"},"stroke":{"field":"group","type":"nominal","legend":null,"scale":{"domain":["RURAL","SUBURBAN","URBAN"],"range":["#1d3a63","#8f9292","#f0ae2e"]}}}},
 {"data":{"name":"extract"},"mark":{"type":"square","size":50,"filled":true,"opacity":1},"encoding":{
  "x":{"field":"year","type":"quantitative"},
  "y":{"field":"pct","type":"quantitative"},
  "color":{"field":"group","type":"nominal","scale":{"domain":["RURAL","SUBURBAN","URBAN"],"range":["#1d3a63","#8f9292","#f0ae2e"]},"legend":{"orient":"none","legendX":352,"legendY":331,"title":null,"symbolType":"square","symbolSize":50,"symbolOpacity":1,"strokeColor":"#777777","padding":6,"labelFontSize":10.5,"labelColor":"#7a7a7a","rowPadding":3,"labelOffset":2}}}}
 ]}
]},
{"width":1,"height":764,"view":{"fill":"#d6d6d6","stroke":null},"data":{"values":[{}]},"mark":{"type":"rect","opacity":0},"encoding":{}}
]},
{"width":1024,"height":1,"view":{"fill":"#d6d6d6","stroke":null},"data":{"values":[{}]},"mark":{"type":"rect","opacity":0},"encoding":{}}
],
"spacing":0
}
